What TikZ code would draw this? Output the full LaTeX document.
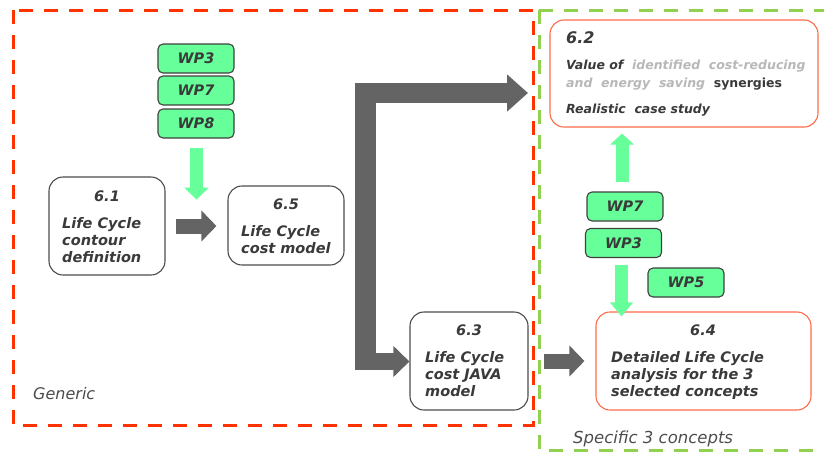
\documentclass[tikz,border=0pt]{standalone}
\usepackage{fontspec}
\setmainfont{DejaVu Sans}
\usetikzlibrary{arrows.meta,calc}
\definecolor{redd}{HTML}{FF3300}
\definecolor{gred}{HTML}{92D050}
\definecolor{wpfill}{HTML}{66FF99}
\definecolor{arrgray}{HTML}{646464}
\definecolor{txtc}{HTML}{3A3A3A}
\definecolor{lgray}{HTML}{B8B8B8}
\definecolor{oranged}{HTML}{FF6A4A}
\tikzset{
  region/.style={line width=3pt, dash pattern=on 14pt off 11pt},
  cbox/.style={draw=black!70, line width=1.1pt, rounded corners=14pt, fill=white, inner sep=0pt},
  obox/.style={draw=oranged, line width=1.1pt, rounded corners=14pt, fill=white, inner sep=0pt},
  wpbox/.style={draw=black!75, line width=1.1pt, rounded corners=5pt, fill=wpfill, minimum width=76pt, minimum height=29pt, inner sep=0pt,
     font=\fontsize{14.5}{17}\selectfont\bfseries\itshape, text=txtc},
  txt/.style={inner sep=0pt, anchor=base west, text=txtc, font=\fontsize{14.5}{17}\selectfont\bfseries\itshape},
  num/.style={inner sep=0pt, anchor=base, text=txtc, font=\fontsize{14.5}{17}\selectfont\bfseries\itshape},
  garrow/.style={draw=wpfill, line width=13pt, -{Triangle[length=12pt,width=24pt]}},
  grarrow/.style={draw=arrgray, line width=15pt, -{Triangle[length=15pt,width=30pt]}},
}
\begin{document}
\begin{tikzpicture}[x=1pt,y=-1pt]
\useasboundingbox (0,0) rectangle (824,453);
\clip (0,0) rectangle (824,453);
% regions
\draw[region, draw=gred] (539,10) -- (840,10) (539,10) -- (539,450) -- (840,450);
\draw[region, draw=redd] (13,10) rectangle (533,425);
% boxes
\node[cbox, minimum width=116pt, minimum height=98pt] (n61) at (107,226) {};
\node[cbox, minimum width=116pt, minimum height=79pt] (n65) at (286,225.5) {};
\node[cbox, minimum width=118pt, minimum height=98pt] (n63) at (469,361) {};
\node[obox, minimum width=215pt, minimum height=98pt] (n64) at (703.5,361) {};
\node[obox, minimum width=268pt, minimum height=107pt] (n62) at (684,73.5) {};
% WP boxes
\node[wpbox] (wp3a) at (196,58.5) {WP3};
\node[wpbox] (wp7a) at (196,90.5) {WP7};
\node[wpbox] (wp8a) at (196,123.5) {WP8};
\node[wpbox] (wp7b) at (625,206.5) {WP7};
\node[wpbox] (wp3b) at (623.5,243) {WP3};
\node[wpbox] (wp5) at (686,282.5) {WP5};
% texts
\node[num] (t61) at (107,201) {6.1};
\node[txt] (t61a) at (62,228) {Life Cycle};
\node[txt] (t61b) at (62,245) {contour};
\node[txt] (t61c) at (62,262) {definition};
\node[num] (t65) at (286,209) {6.5};
\node[txt] (t65a) at (241,236) {Life Cycle};
\node[txt] (t65b) at (241,253) {cost model};
\node[num] (t63) at (469,335) {6.3};
\node[txt] (t63a) at (425,362) {Life Cycle};
\node[txt] (t63b) at (425,379) {cost JAVA};
\node[txt] (t63c) at (425,396) {model};
\node[num] (t64) at (703,335) {6.4};
\node[txt] (t64a) at (611,362) {Detailed Life Cycle};
\node[txt] (t64b) at (611,379) {analysis for the 3};
\node[txt] (t64c) at (611,396) {selected concepts};
\node[txt, font=\fontsize{16}{18}\selectfont\bfseries\itshape] (t62) at (566,43) {6.2};
\node[txt, font=\fontsize{12.5}{15}\selectfont\bfseries\itshape] (t62a) at (566,69) {Value of\ \ {\color{lgray}identified\ \ cost-reducing}};
\node[txt, font=\fontsize{12.5}{15}\selectfont\bfseries\itshape] (t62b) at (566,87) {{\color{lgray}and\ \ energy\ \ saving}\ \ \upshape synergies};
\node[txt, font=\fontsize{12.5}{15}\selectfont\bfseries\itshape] (t62c) at (566,113) {Realistic\ \ case study};
\node[txt, font=\fontsize{16}{18}\selectfont\itshape, text=black!70] (gen) at (33,399) {Generic};
\node[txt, font=\fontsize{16.5}{18}\selectfont\itshape, text=black!70] (spec) at (573,443) {Specific 3 concepts};
% green arrows
\draw[garrow] ($(wp8a.south)+(0.5,9)$) -- ($(wp8a.south)+(0.5,61)$);
\draw[garrow, -{Triangle[length=11pt,width=23pt]}] ($(wp7b.north)+(-3,-9)$) -- ($(n62.south)+(-62,6)$);
\draw[garrow, -{Triangle[length=14pt,width=22pt]}] ($(wp3b.south)+(-2,7)$) -- ($(n64.north)+(-82,5)$);
% gray arrows
\draw[grarrow] ($(n61.east)+(10,0)$) -- ($(n65.west)+(-11,0.5)$);
\draw[grarrow] ($(n63.east)+(15,0)$) -- ($(n64.west)+(-11,0)$);
\coordinate (lbot) at (365.5,370);
\coordinate (lmid) at (365.5,361.5);
\coordinate (ltop) at (528,93);
\draw[draw=arrgray, line width=20.5pt, line join=miter, -{Triangle[length=21pt,width=36pt]}] (lbot) |- (ltop);
\draw[draw=arrgray, line width=17pt, -{Triangle[length=16pt,width=30pt]}] (lmid) -- (n63.west |- lmid);
\end{tikzpicture}
\end{document}
